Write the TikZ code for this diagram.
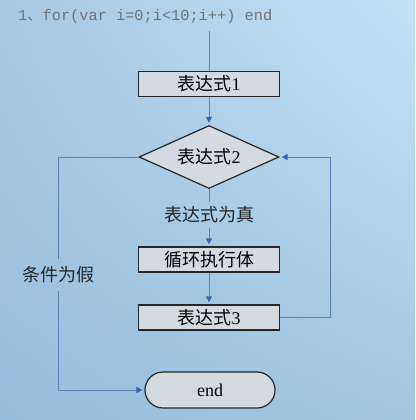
\documentclass[tikz,border=0pt]{standalone}
\usepackage{fontspec}
\setmainfont{Liberation Serif}
\setmonofont{Liberation Mono}
\newfontfamily\cjk{Noto Sans CJK SC}
\usetikzlibrary{arrows.meta,shapes.geometric,positioning,calc,shadings}

\definecolor{bgtl}{HTML}{A8C8E2}
\definecolor{bgtr}{HTML}{C4E2F4}
\definecolor{bgbl}{HTML}{98BEDD}
\definecolor{bgbr}{HTML}{A2C6E0}
\definecolor{boxfill}{HTML}{D5D9E0}
\definecolor{flowline}{HTML}{5B85B5}
\definecolor{tipblue}{HTML}{3566B8}

\begin{document}
\begin{tikzpicture}[
    x=1pt, y=-1pt,
    stepbox/.style={draw=black!85, line width=1.2pt, fill=boxfill, minimum width=141pt, minimum height=25pt, inner sep=0pt, font=\fontsize{18}{18}\selectfont},
    decide/.style={diamond, aspect=2.22, draw=black!85, line width=1.2pt, fill=boxfill, minimum width=140pt, minimum height=63pt, inner sep=0pt, font=\fontsize{18}{18}\selectfont},
    term/.style={draw=black!85, line width=1.2pt, fill=boxfill, rounded corners=18pt, minimum width=130pt, minimum height=36pt, inner sep=0pt, font=\fontsize{18}{18}\selectfont},
    lbl/.style={font=\fontsize{18}{18}\selectfont, text=black!85, inner sep=4pt},
    flow/.style={draw=flowline, line width=0.9pt},
    arr/.style={flow, -{Triangle[length=6pt,width=6pt,color=tipblue]}, shorten >=2pt}
]
\useasboundingbox (0,0) rectangle (415,420);
\shade[upper left=bgtl, upper right=bgtr, lower left=bgbl, lower right=bgbr] (0,0) rectangle (415,420);

\node[anchor=west, text=black!55, font=\ttfamily\fontsize{15.3}{15.3}\selectfont, inner sep=0pt] (title) at (18,17) {1{\cjk 、}for(var i=0;i<10;i++) end};
\coordinate (start) at (209,31);

\node[stepbox] (expr1) at (209,84) {{\cjk 表达式}1};
\node[decide] (cond) at (209,157) {{\cjk 表达式}2};
\node[lbl] (true) at (209,215) {\cjk 表达式为真};
\node[stepbox] (body) at (209,259.5) {\cjk 循环执行体};
\node[stepbox] (expr3) at (209,317.5) {{\cjk 表达式}3};
\node[term] (end) at (210,390) {end};
\node[lbl, inner sep=7pt] (false) at (58,275) {\cjk 条件为假};
\coordinate (back) at (330,157);

\draw[flow] (start) -- (expr1.north);
\draw[arr] (expr1.south) -- (cond.north);
\draw[flow] (cond.south) -- (true.north);
\draw[arr] (true.south) -- (body.north);
\draw[arr] (body.south) -- (expr3.north);
\draw[arr] (expr3.east) -| (back) -- (cond.east);
\draw[flow] (cond.west) -| (false.north);
\draw[arr] (false.south) |- (end.west);
\end{tikzpicture}
\end{document}
